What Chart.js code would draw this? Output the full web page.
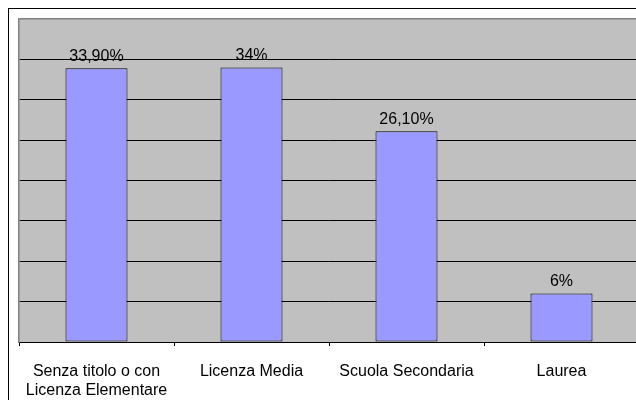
<!DOCTYPE html>
<html>
<head>
<meta charset="utf-8">
<script src="https://cdn.jsdelivr.net/npm/chart.js@4/dist/chart.umd.min.js"></script>
<style>
    body { margin: 0; overflow: hidden; background: #fff; }
    #frame { position: absolute; left: 8px; top: 8px; width: 700px; height: 500px; border-left: 1px solid #000; border-top: 1px solid #000; }
    #chart { position: absolute; left: 0; top: 0; }
</style>
</head>
<body>
<div id="frame"></div>
<canvas id="chart" width="660" height="400"></canvas>
<script>
// Chart data
var categories = [ [ 'Senza titolo o con', 'Licenza Elementare' ], 'Licenza Media', 'Scuola Secondaria', 'Laurea' ];
var percentages = [ 33.9, 34, 26.1, 6 ];
var valueLabels = [ '33,90%', '34%', '26,10%', '6%' ];
var yMax = 40;
var yStep = 5;

var FONT = '"Liberation Sans", Arial, sans-serif';

document.addEventListener( 'DOMContentLoaded', function ()
{
    // Grey plot area background
    var plotBackground = {
        id: 'plotBackground',
        beforeDraw: function ( chart )
        {
            var a = chart.chartArea;
            var ctx = chart.ctx;
            ctx.save();
            ctx.fillStyle = '#c0c0c0';
            ctx.fillRect( a.left, a.top, a.right - a.left, a.bottom - a.top );
            ctx.restore();
        }
    };

    // Value labels above bars
    var barValues = {
        id: 'barValues',
        afterDatasetsDraw: function ( chart )
        {
            var ctx = chart.ctx;
            var meta = chart.getDatasetMeta( 0 );
            ctx.save();
            ctx.font = '16px ' + FONT;
            ctx.fillStyle = '#000';
            ctx.textAlign = 'center';
            ctx.textBaseline = 'alphabetic';
            meta.data.forEach( function ( bar, i )
            {
                ctx.fillText( valueLabels[ i ], bar.x, bar.y - 7.5 );
            } );
            ctx.restore();
        }
    };

    new Chart( document.getElementById( 'chart' ), {
        type: 'bar',
        data: {
            labels: categories,
            datasets: [ {
                data: percentages,
                backgroundColor: '#9999ff',
                borderColor: '#000',
                borderWidth: 1,
                borderSkipped: false,
                barPercentage: 0.4,
                categoryPercentage: 1
            } ]
        },
        options: {
            responsive: false,
            animation: false,
            devicePixelRatio: 1,
            layout: { padding: { left: 19, top: 19, right: 21, bottom: 0 } },
            plugins: { legend: { display: false }, tooltip: { enabled: false } },
            scales: {
                x: {
                    offset: true,
                    afterFit: function ( scale ) { scale.height = 58; },
                    border: { display: true, color: '#000', width: 1 },
                    grid: { offset: true, drawOnChartArea: false, drawTicks: true, tickLength: 4, color: '#000' },
                    ticks: { color: '#000', padding: 16, maxRotation: 0, autoSkip: false, font: { family: FONT, size: 16 } }
                },
                y: {
                    min: 0,
                    max: yMax,
                    afterFit: function ( scale ) { scale.width = 0; },
                    border: { display: true, color: '#808080', width: 1.5 },
                    grid: {
                        drawTicks: false,
                        lineWidth: function ( c ) { return c.tick && c.tick.value === yMax ? 1.5 : 1; },
                        color: function ( c ) { return c.tick && c.tick.value === yMax ? '#808080' : '#000'; }
                    },
                    ticks: { display: false, stepSize: yStep }
                }
            }
        },
        plugins: [ plotBackground, barValues ]
    } );
} );
</script>
</body>
</html>
